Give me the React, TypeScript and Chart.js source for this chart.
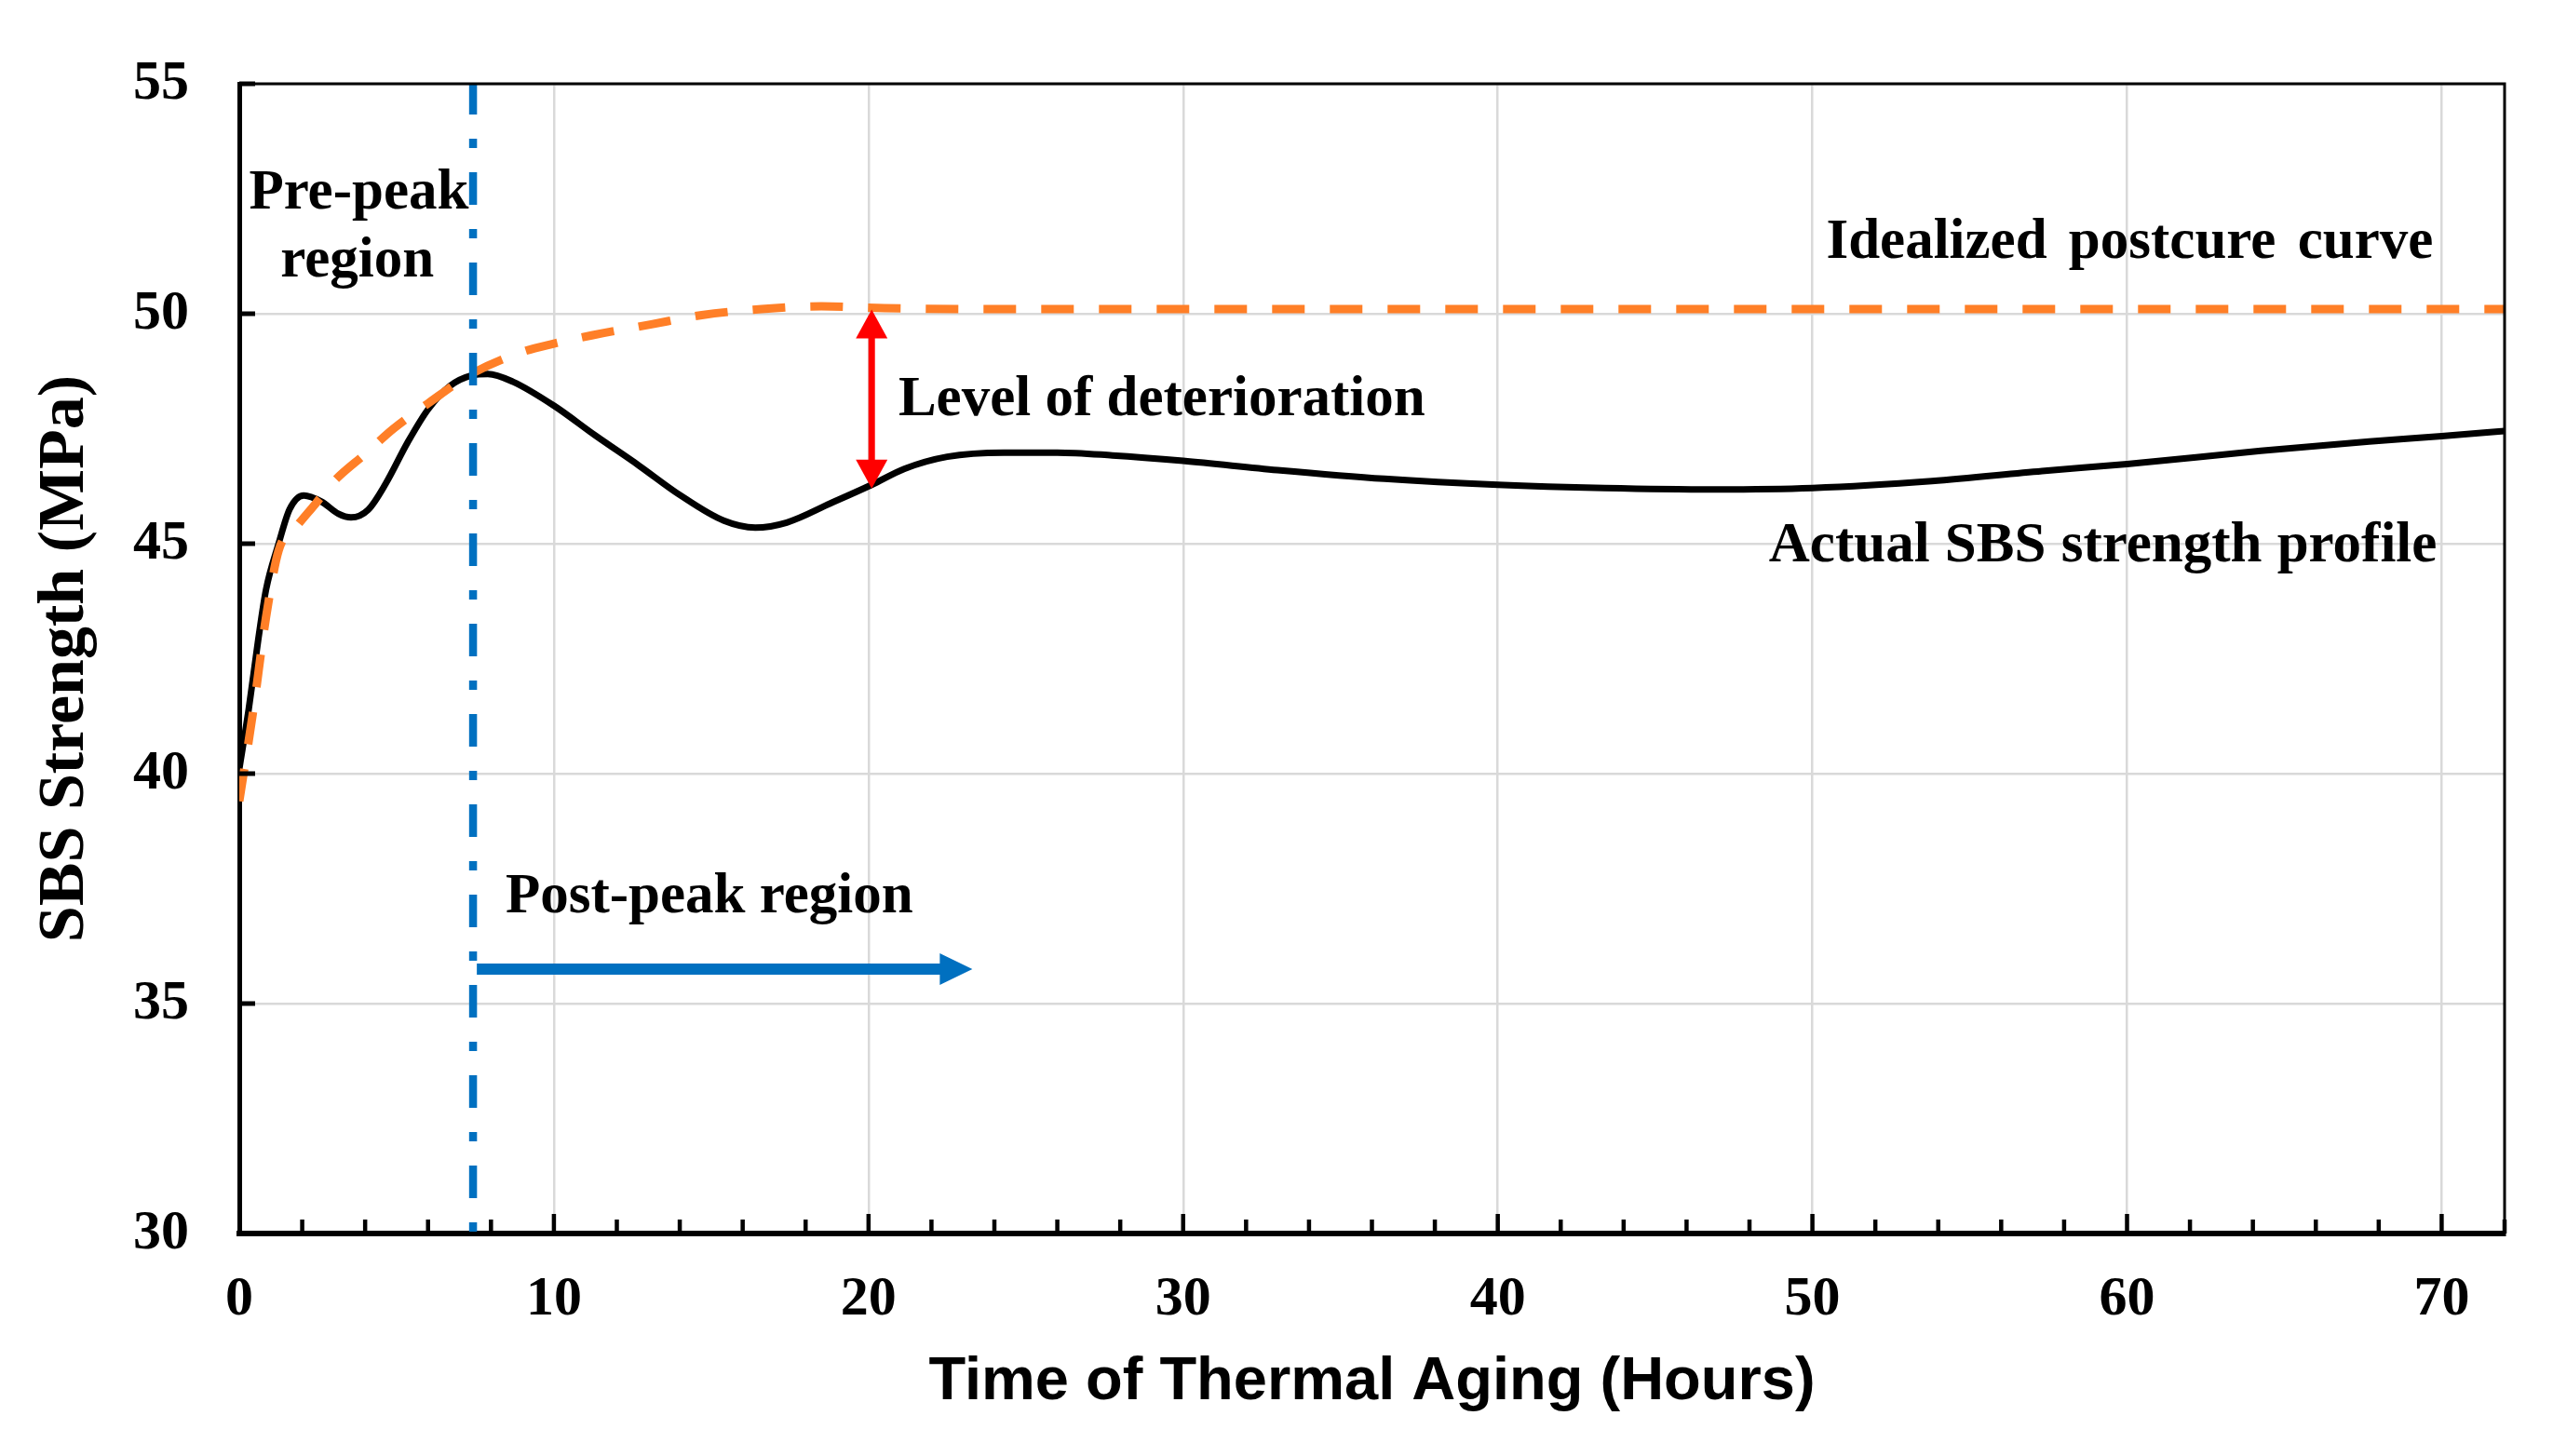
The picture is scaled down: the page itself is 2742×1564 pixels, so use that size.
import { useEffect, useRef } from 'react';
import { Chart, registerables } from 'chart.js';

Chart.register(...registerables);

// actual SBS strength profile (black solid)
const actualHours = [0, 0.3, 0.6, 0.85, 1.25, 1.6, 2.05, 2.6, 3.15, 3.55, 4.1, 4.65, 5.35, 6.0, 6.7, 7.4, 7.9, 8.7, 10, 11.3, 12.7, 14, 15.4, 16.4, 17.4, 18.8, 20.1, 21.15, 22.5, 24.3, 26, 27.75, 30, 33, 36.4, 40, 43.4, 46.9, 50, 53.8, 57.3, 60, 64.25, 67.7, 70, 72];
const actualMPa = [40.1, 41.4, 42.9, 44.0, 45.0, 45.75, 46.05, 45.92, 45.65, 45.57, 45.74, 46.3, 47.2, 47.92, 48.43, 48.66, 48.69, 48.52, 48.0, 47.36, 46.7, 46.06, 45.5, 45.35, 45.46, 45.88, 46.28, 46.63, 46.89, 46.98, 46.98, 46.92, 46.8, 46.6, 46.41, 46.28, 46.21, 46.18, 46.21, 46.36, 46.58, 46.73, 47.02, 47.22, 47.34, 47.45];

// idealized postcure curve (orange dashed)
const idealHours = [0, 0.45, 0.85, 1.25, 1.85, 2.4, 3.0, 4.0, 4.9, 6.0, 7.4, 9.0, 10.0, 11.2, 13.1, 14.7, 16.6, 18.5, 20.5, 25, 72];
const idealMPa = [39.4, 41.4, 43.4, 44.85, 45.4, 45.85, 46.35, 46.95, 47.5, 48.05, 48.7, 49.17, 49.35, 49.53, 49.77, 49.97, 50.1, 50.16, 50.12, 50.1, 50.1];

const peakHour = 7.43;
const xMin = 0;
const xMax = 72;
const yMin = 30;
const yMax = 55;

const xMinorTicks = [2, 4, 6, 8, 12, 14, 16, 18, 22, 24, 26, 28, 32, 34, 36, 38, 42, 44, 46, 48, 52, 54, 56, 58, 62, 64, 66, 68, 72];
const xMajorTicks = [10, 20, 30, 40, 50, 60, 70];
const yTickValues = [55, 50, 45, 40, 35];

// arrows: [x1, y1, x2, y2] in data units
const postPeakArrow = [7.55, 35.75, 23.3, 35.75];
const deteriorationArrow = [20.1, 46.2, 20.1, 50.09];

// text notes: [text, x, y, align, word spacing]
const notes: [string, number, number, CanvasTextAlign, number][] = [
  ['Pre-peak', 3.8, 52.28, 'center', 0],
  ['region', 3.75, 50.8, 'center', 0],
  ['Idealized postcure curve', 69.73, 51.21, 'right', 8],
  ['Level of deterioration', 20.95, 47.8, 'left', 0],
  ['Actual SBS strength profile', 69.85, 44.62, 'right', 1],
  ['Post-peak region', 8.46, 36.98, 'left', 0],
];

const serif = 'Liberation Serif';

function drawArrow(ctx: CanvasRenderingContext2D, x1: number, y1: number, x2: number, y2: number,
  color: string, width: number, headLen: number, headHalf: number, both: boolean) {
  const dx = x2 - x1, dy = y2 - y1;
  const len = Math.hypot(dx, dy);
  const ux = dx / len, uy = dy / len;
  const sx = both ? x1 + ux * headLen * 0.8 : x1;
  const sy = both ? y1 + uy * headLen * 0.8 : y1;
  const ex = x2 - ux * headLen * 0.8, ey = y2 - uy * headLen * 0.8;
  ctx.strokeStyle = color;
  ctx.fillStyle = color;
  ctx.lineWidth = width;
  ctx.lineCap = 'butt';
  ctx.beginPath();
  ctx.moveTo(sx, sy);
  ctx.lineTo(ex, ey);
  ctx.stroke();
  const head = (tx: number, ty: number, vx: number, vy: number) => {
    const bx = tx - vx * headLen, by = ty - vy * headLen;
    ctx.beginPath();
    ctx.moveTo(tx, ty);
    ctx.lineTo(bx - vy * headHalf, by + vx * headHalf);
    ctx.lineTo(bx + vy * headHalf, by - vx * headHalf);
    ctx.closePath();
    ctx.fill();
  };
  head(x2, y2, ux, uy);
  if (both) head(x1, y1, -ux, -uy);
}

const decorPlugin = {
  id: 'decor',
  afterDatasetsDraw(chart: Chart) {
    const { ctx, chartArea: a } = chart;
    const x = chart.scales.x;
    const y = chart.scales.y;
    ctx.save();

    // inward tick marks
    ctx.strokeStyle = '#000';
    ctx.lineCap = 'butt';
    ctx.lineWidth = 4.5;
    ctx.beginPath();
    for (const t of xMinorTicks) {
      const px = x.getPixelForValue(t);
      ctx.moveTo(px, a.bottom);
      ctx.lineTo(px, a.bottom - 15);
    }
    for (const t of xMajorTicks) {
      const px = x.getPixelForValue(t);
      ctx.moveTo(px, a.bottom);
      ctx.lineTo(px, a.bottom - 21);
    }
    ctx.stroke();
    ctx.lineWidth = 5;
    ctx.beginPath();
    for (const t of yTickValues) {
      const py = y.getPixelForValue(t);
      ctx.moveTo(a.left, py);
      ctx.lineTo(a.left + 17, py);
    }
    ctx.stroke();

    // top and right frame
    ctx.lineWidth = 3;
    ctx.beginPath();
    ctx.moveTo(a.left, a.top);
    ctx.lineTo(a.right, a.top);
    ctx.lineTo(a.right, a.bottom);
    ctx.stroke();

    // arrows
    drawArrow(ctx,
      x.getPixelForValue(postPeakArrow[0]), y.getPixelForValue(postPeakArrow[1]),
      x.getPixelForValue(postPeakArrow[2]), y.getPixelForValue(postPeakArrow[3]),
      '#0070C0', 12, 35, 17, false);
    drawArrow(ctx,
      x.getPixelForValue(deteriorationArrow[0]), y.getPixelForValue(deteriorationArrow[1]),
      x.getPixelForValue(deteriorationArrow[2]), y.getPixelForValue(deteriorationArrow[3]),
      '#FF0000', 7, 31, 17, true);

    // text notes
    ctx.fillStyle = '#000';
    ctx.font = `bold 61px "${serif}"`;
    ctx.textBaseline = 'alphabetic';
    for (const [text, nx, ny, align, ws] of notes) {
      ctx.textAlign = align;
      (ctx as any).wordSpacing = `${ws}px`;
      ctx.fillText(text, x.getPixelForValue(nx), y.getPixelForValue(ny));
    }
    (ctx as any).wordSpacing = '0px';
    ctx.restore();
  },
};

export default function App() {
  const canvasRef = useRef<HTMLCanvasElement>(null);
  const chartRef = useRef<Chart | null>(null);

  useEffect(() => {
    if (!canvasRef.current) return;
    if (chartRef.current) { chartRef.current.destroy(); chartRef.current = null; }

    const tickFont = { family: serif, weight: 'bold' as const, size: 60 };

    chartRef.current = new Chart(canvasRef.current, {
      type: 'line',
      data: {
        datasets: [
          {
            label: 'Peak',
            data: [{ x: peakHour, y: yMax }, { x: peakHour, y: yMin }],
            borderColor: '#0070C0',
            borderWidth: 8.5,
            borderDash: [35, 26, 10, 26],
            borderDashOffset: 2,
            borderCapStyle: 'butt',
            pointRadius: 0,
            order: 1,
          },
          {
            label: 'Idealized postcure curve',
            data: idealHours.map((h, i) => ({ x: h, y: idealMPa[i] })),
            borderColor: '#FF7F27',
            borderWidth: 9,
            borderDash: [35, 27],
            borderCapStyle: 'butt',
            cubicInterpolationMode: 'monotone',
            pointRadius: 0,
            order: 2,
          },
          {
            label: 'Actual SBS strength profile',
            data: actualHours.map((h, i) => ({ x: h, y: actualMPa[i] })),
            borderColor: '#000000',
            borderWidth: 7,
            cubicInterpolationMode: 'monotone',
            pointRadius: 0,
            order: 3,
          },
        ],
      },
      options: {
        animation: false,
        responsive: true,
        maintainAspectRatio: false,
        events: [],
        layout: { padding: { left: 0, top: 85, right: 52, bottom: 0 } },
        plugins: {
          legend: { display: false },
          tooltip: { enabled: false },
        },
        scales: {
          x: {
            type: 'linear',
            min: xMin,
            max: xMax,
            afterFit: (s) => { s.height = 239; },
            ticks: {
              stepSize: 10,
              includeBounds: false,
              padding: 35,
              color: '#000',
              font: tickFont,
              maxRotation: 0,
              autoSkip: false,
            },
            grid: { color: '#d9d9d9', lineWidth: 2.5, drawTicks: false },
            border: { color: '#000', width: 6 },
            title: {
              display: true,
              text: 'Time of Thermal Aging (Hours)',
              color: '#000',
              font: { family: 'Liberation Sans', weight: 'bold', size: 65 },
              padding: { top: 0, bottom: 40 },
            },
          },
          y: {
            type: 'linear',
            min: yMin,
            max: yMax,
            afterFit: (s) => { s.width = 257; },
            ticks: {
              stepSize: 5,
              padding: 54,
              color: '#000',
              font: tickFont,
            },
            grid: { color: '#d9d9d9', lineWidth: 2.5, drawTicks: false },
            border: { color: '#000', width: 5 },
            title: {
              display: true,
              text: 'SBS Strength (MPa)',
              color: '#000',
              font: { family: serif, weight: 'bold', size: 70 },
              padding: { top: 29, bottom: 0 },
            },
          },
        },
      },
      plugins: [decorPlugin],
    });

    return () => { chartRef.current?.destroy(); chartRef.current = null; };
  }, []);

  return (
    <div style={{ position: 'fixed', left: 0, top: 0, width: 2742, height: 1564, background: '#fff' }}>
      <canvas ref={canvasRef} />
    </div>
  );
}
